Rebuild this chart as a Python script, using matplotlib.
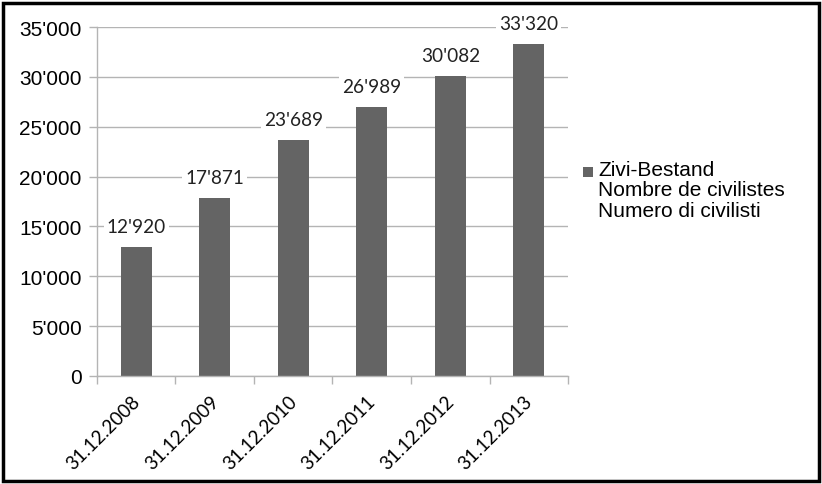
import matplotlib
matplotlib.use("Agg")
import matplotlib.pyplot as plt
from matplotlib.patches import Rectangle
from matplotlib.ticker import FuncFormatter, MultipleLocator
from matplotlib.transforms import ScaledTranslation

dates = ["31.12.2008", "31.12.2009", "31.12.2010", "31.12.2011", "31.12.2012", "31.12.2013"]
bestand = [12920, 17871, 23689, 26989, 30082, 33320]
series_label = "Zivi-Bestand\nNombre de civilistes\nNumero di civilisti"

BAR = "#646464"
GRID = "#b4b4b4"
LABEL_FONT = ["Lato", "DejaVu Sans"]


def swiss(v, pos=None):
    return f"{int(v):,}".replace(",", "'")


plt.rcParams["font.family"] = ["Liberation Sans", "DejaVu Sans"]

fig = plt.figure(figsize=(8.22, 4.85), dpi=100)
ax = fig.add_axes([0.118, 0.223, 0.573, 0.719])

x = range(len(dates))
ax.bar(x, bestand, width=0.4, color=BAR, zorder=2)

ax.set_xlim(-0.5, len(dates) - 0.5)
ax.set_ylim(0, 35000)
ax.yaxis.set_major_locator(MultipleLocator(5000))
ax.yaxis.set_major_formatter(FuncFormatter(swiss))
ax.grid(True, axis="y", color=GRID, linewidth=1, zorder=0)

# tick marks sit on the category boundaries, labels on the centres
ax.set_xticks([i - 0.5 for i in range(len(dates) + 1)])
ax.set_xticklabels([])
ax.set_xticks(list(x), minor=True)
ax.set_xticklabels(dates, minor=True, rotation=45, ha="right", va="top",
                   rotation_mode="anchor", fontsize=13.5, family=LABEL_FONT)
ax.tick_params(axis="x", which="major", length=6, color=GRID, width=1)
ax.tick_params(axis="x", which="minor", length=0, pad=12)
ax.tick_params(axis="y", length=6, color=GRID, width=1, labelsize=15, pad=5)
shift = ScaledTranslation(-5 / 100, 0, fig.dpi_scale_trans)
for lbl in ax.get_xticklabels(minor=True):
    lbl.set_transform(lbl.get_transform() + shift)

for s in ("top", "right"):
    ax.spines[s].set_visible(False)
for s in ("left", "bottom"):
    ax.spines[s].set_color(GRID)
    ax.spines[s].set_linewidth(1)

for i, v in enumerate(bestand):
    ax.annotate(swiss(v), (i, v), xytext=(0, 14.5), textcoords="offset points",
                ha="center", va="center", fontsize=13.7, family=LABEL_FONT,
                color="#222222",
                bbox=dict(boxstyle="square,pad=0.15", fc="white", ec="none"), zorder=3)

# legend: marker square next to the first line of a three-line label
fig.patches.append(Rectangle((583 / 822, 1 - 178 / 485), 10 / 822, 10 / 485,
                             transform=fig.transFigure, fc=BAR, ec="none"))
fig.text(598 / 822, 1 - 161 / 485, series_label, ha="left", va="top",
         fontsize=15, linespacing=1.1)

fig.patches.append(Rectangle((0.004, 0.006), 0.992, 0.985, transform=fig.transFigure,
                             fill=False, ec="black", lw=2.5))

fig.savefig("out.png", dpi=100)
